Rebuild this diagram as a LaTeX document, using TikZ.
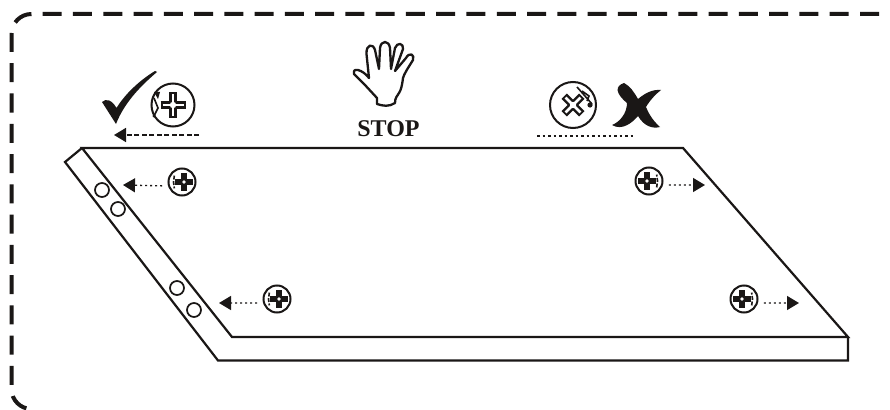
\documentclass[tikz,border=0pt]{standalone}
\usepackage{fontspec}
\usetikzlibrary{arrows.meta, positioning, calc}
\newfontfamily\stopfont{Liberation Serif}
\definecolor{inkblack}{HTML}{1A1716}

% Small screw slot: black cross, white centre, nick towards one side
\newcommand{\screwslot}[2]{% node, nick angle
  \coordinate (slotc) at ($(#1)+(#2+180:2)$);
  \draw[inkblack, line width=5.2pt] ($(slotc)+(-9,0)$) -- ($(slotc)+(9,0)$)
    ($(slotc)+(0,-9)$) -- ($(slotc)+(0,9)$);
  \fill[white] (slotc) circle (1.8pt);
  \draw[inkblack, line width=1.6pt, dash pattern=on 4pt off 1.5pt]
    ($(#1)+(#2+40:10)$) -- ($(#1)+(#2:8.5)$) -- ($(#1)+(#2-40:10)$);
}
% Big screw slot: outlined cross
\newcommand{\bigslot}[2]{% node, rotation
  \begin{scope}[shift={(#1)}, rotate=#2]
    \draw[inkblack, line width=7.5pt] (-12.5,0) -- (12.5,0) (0,-12.5) -- (0,12.5);
    \draw[white, line width=2.6pt] (-10.5,0) -- (10.5,0) (0,-10.5) -- (0,10.5);
    \fill[white] (0,0) circle (3.2pt);
  \end{scope}
}

\begin{document}
\begin{tikzpicture}[
  x=1pt, y=-1pt,
  >={Triangle[length=12pt, width=14pt]},
  screwbig/.style={circle, draw=inkblack, line width=2pt, fill=white,
    minimum size=#1, inner sep=0pt},
  screwsmall/.style={circle, draw=inkblack, line width=2pt, fill=white,
    minimum size=27pt, inner sep=0pt},
  outline/.style={draw=inkblack, line width=2.2pt, line join=miter},
  hole/.style={circle, draw=inkblack, line width=1.7pt, fill=white,
    minimum size=14pt, inner sep=0pt},
  dotarr/.style={->, inkblack, line width=1.3pt, dash pattern=on 2pt off 3pt, shorten <=6pt},
  nick/.style={inkblack, line width=1.6pt},
]

% Page size
\useasboundingbox (0,0) rectangle (890,409);
\fill[white] (0,0) rectangle (890,409);

% Dashed frame
\draw[inkblack, line width=4pt, dash pattern=on 19pt off 11.27pt, rounded corners=20pt]
  (879,14) -- (11.5,14) -- (11.5,409) -- (36,409);

% =============================================
% Panel
% =============================================
\draw[outline] (82,148) -- (683,148) -- (848,337) -- (232,337) -- cycle;
\draw[outline] (82,148) -- (65,162) -- (218,360.5) -- (848,360.5) -- (848,337);

% Holes in the strip
\node[hole] (h1) at (102,190) {};
\node[hole] (h2) at (118,209) {};
\node[hole] (h3) at (177,288) {};
\node[hole] (h4) at (194,310) {};

% =============================================
% Top: right and wrong way
% =============================================
\node[screwbig=43pt] (good) at (173,105) {};
\bigslot{good}{0}
\draw[nick] (154,98) -- (158,108) -- (154,116);
\fill[inkblack] (154,92) -- (160,92) -- (158,99) -- cycle;
\fill[inkblack] (154,116) circle (1.6pt);

\node[screwbig=46pt] (bad) at (573,105) {};
\bigslot{bad}{45}
\draw[nick] (577,87) -- (592,104) (582,91) -- (589,96) -- (587,101);
\fill[inkblack] (590,105) circle (2.6pt);

% Check mark
\fill[inkblack] (157,72) .. controls (143,84) and (125,101) .. (116,124)
  -- (102,102) .. controls (106,98) and (112,100) .. (116.5,108)
  .. controls (125,94) and (140,80) .. (155,71) -- cycle;

% Cross mark
\fill[inkblack] (624,83) .. controls (615,86) and (615,93) .. (627,103)
  .. controls (627,113) and (620,122) .. (612,125)
  .. controls (622,131) and (632,123) .. (638,116)
  .. controls (644,126) and (652,129) .. (660,127)
  .. controls (652,120) and (648,112) .. (646,107)
  .. controls (650,100) and (656,94) .. (661,90)
  .. controls (652,89) and (644,94) .. (638,99)
  .. controls (634,92) and (630,86) .. (624,83) -- cycle;

% Guide lines under the screws
\coordinate (goodend) at (199,135);
\coordinate (goodtip) at (114,135);
\coordinate (badstart) at (537,136);
\coordinate (badend) at (633,136);
\draw[->, inkblack, line width=1.6pt, dash pattern=on 5pt off 2.5pt] (goodend) -- (goodtip);
\draw[inkblack, line width=1.3pt, dash pattern=on 2.5pt off 3pt] (badstart) -- (badend);

% Hand
\draw[inkblack, line width=2.3pt, line join=round, fill=white]
  (377,104) -- (377,98) -- (365,85) -- (354,74)
  .. controls (353,70) and (356,69) .. (358,70)
  .. controls (362,71) and (366,74) .. (369,78)
  -- (366.5,54) .. controls (366,44) and (373,43) .. (375,50)
  -- (379,69) -- (380,48) .. controls (381,40) and (389,40) .. (390,48)
  -- (391,69) -- (395,48) .. controls (397,42) and (404,43) .. (403,49)
  -- (395,71) -- (406,58) .. controls (409,52) and (415,54) .. (413,60)
  .. controls (408,68) and (404,74) .. (403,78)
  .. controls (402,86) and (401,90) .. (399,93)
  .. controls (397,96) and (395,98) .. (395,103)
  .. controls (389,107) and (383,106) .. (377,104) -- cycle;

\node[inner sep=0pt, text=inkblack, font=\fontsize{24}{24}\selectfont\stopfont\bfseries] (stop) at (388.5,129) {STOP};

% =============================================
% Four small screws with their arrows
% =============================================
\node[screwsmall] (sa) at (182,182) {};
\node[screwsmall] (sb) at (277,299) {};
\node[screwsmall] (sc) at (649,181) {};
\node[screwsmall] (sd) at (744,299) {};
\screwslot{sa}{180}
\screwslot{sb}{180}
\screwslot{sc}{0}
\screwslot{sd}{0}

\coordinate (ta) at (123,185);
\coordinate (tb) at (219,303);
\coordinate (tc) at (705,185);
\coordinate (td) at (799,303);
\draw[dotarr] (sa.196) -- (ta);
\draw[dotarr] (sb.196) -- (tb);
\draw[dotarr] (sc.-16) -- (tc);
\draw[dotarr] (sd.-16) -- (td);

\end{tikzpicture}
\end{document}
